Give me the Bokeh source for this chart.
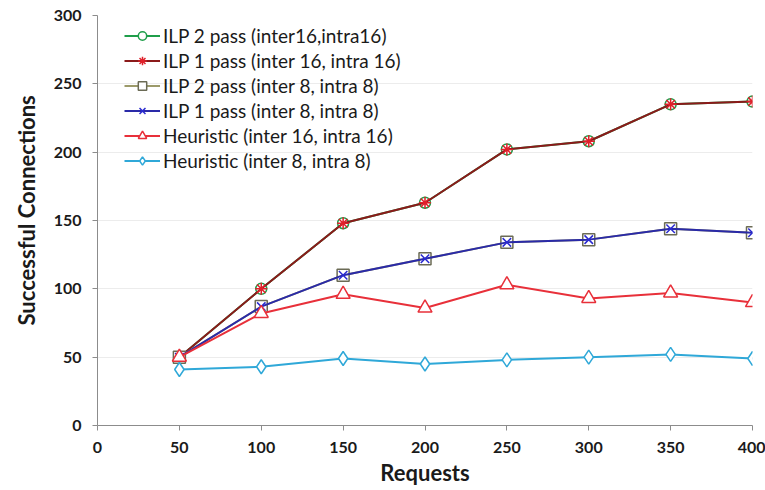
from bokeh.plotting import figure
from bokeh.models import Range1d, Legend, LegendItem, FixedTicker, Title
from bokeh.embed import file_html
from bokeh.resources import INLINE

requests = [50, 100, 150, 200, 250, 300, 350, 400]

ilp2_16 = [50, 100, 148, 163, 202, 208, 235, 237]
ilp1_16 = [50, 100, 148, 163, 202, 208, 235, 237]
ilp2_8 = [50, 87, 110, 122, 134, 136, 144, 141]
ilp1_8 = [50, 87, 110, 122, 134, 136, 144, 141]
heur_16 = [50, 82, 96, 86, 103, 93, 97, 90]
heur_8 = [41, 43, 49, 45, 48, 50, 52, 49]

x_ticks = [0, 50, 100, 150, 200, 250, 300, 350, 400]
y_ticks = [0, 50, 100, 150, 200, 250, 300]

p = figure(width=765, height=490, output_backend="svg", toolbar_location=None,
           x_range=Range1d(0, 400), y_range=Range1d(0, 300),
           min_border_left=96, min_border_right=13, min_border_top=15, min_border_bottom=65)
p.outline_line_color = None
p.background_fill_color = "white"

for ax in (p.xaxis[0], p.yaxis[0]):
    ax.axis_line_color = "#8c8c8c"
    ax.major_tick_line_color = "#8c8c8c"
    ax.minor_tick_line_color = None
    ax.major_tick_out = 5
    ax.major_tick_in = 0
    ax.major_label_text_font = "Lato"
    ax.major_label_text_font_style = "bold"
    ax.major_label_text_font_size = "16px"
    ax.major_label_text_color = "#1a1a1a"
    ax.axis_label_text_font = "Lato"
    ax.axis_label_text_font_style = "bold"
    ax.axis_label_text_font_size = "22px"
    ax.axis_label_text_color = "#1a1a1a"

p.xaxis.ticker = FixedTicker(ticks=x_ticks)
p.yaxis.ticker = FixedTicker(ticks=y_ticks)
p.xaxis.axis_label = "Requests"
p.xaxis.major_label_standoff = 11
p.yaxis.major_label_standoff = 11
p.xaxis.axis_label_standoff = 3

# vertical title, starting 100px above the bottom of the frame
ytitle = Title(text="Successful Connections", align="left", offset=100,
               text_font="Lato", text_font_style="bold", text_font_size="22px",
               text_color="#1a1a1a", standoff=21)
p.add_layout(ytitle, "left")

p.xgrid.grid_line_color = None
p.ygrid.grid_line_color = "#ececec"
p.ygrid.grid_line_width = 1

series = [
    ("ILP 2 pass (inter16,intra16)", ilp2_16, "#1f9e4a", "circle", 11, "#1f9e4a"),
    ("ILP 1 pass (inter 16, intra 16)", ilp1_16, "#8b1a1a", "asterisk", 12, "#e0202a"),
    ("ILP 2 pass (inter 8, intra 8)", ilp2_8, "#9c9a6a", "square", 12, "#6b6b55"),
    ("ILP 1 pass (inter 8, intra 8)", ilp1_8, "#2a2aa8", "x", 12, "#2a2ad0"),
    ("Heuristic (inter 16, intra 16)", heur_16, "#e8303a", "triangle", 14, "#e8303a"),
    ("Heuristic (inter 8, intra 8)", heur_8, "#2fa8d8", "diamond", 14, "#2fa8d8"),
]

items = []
for label, ys, lcol, marker, size, mcol in series:
    r_line = p.line(requests, ys, line_color=lcol, line_width=2)
    r_mark = p.scatter(requests, ys, marker=marker, size=size, line_color=mcol,
                       fill_color="white" if marker not in ("asterisk", "x") else None,
                       line_width=1.5)
    items.append(LegendItem(label=label, renderers=[r_line, r_mark]))

legend = Legend(items=items, location=(27, 253))
legend.border_line_color = None
legend.background_fill_alpha = 0
legend.label_text_font = "Lato"
legend.label_text_font_size = "19px"
legend.label_text_color = "#1a1a1a"
legend.glyph_width = 36
legend.glyph_height = 21
legend.label_standoff = 3
legend.spacing = 2
legend.padding = 0
legend.margin = 0
legend.label_height = 21
p.add_layout(legend)

html = file_html(p, INLINE)
open("out.html", "w").write(html)
